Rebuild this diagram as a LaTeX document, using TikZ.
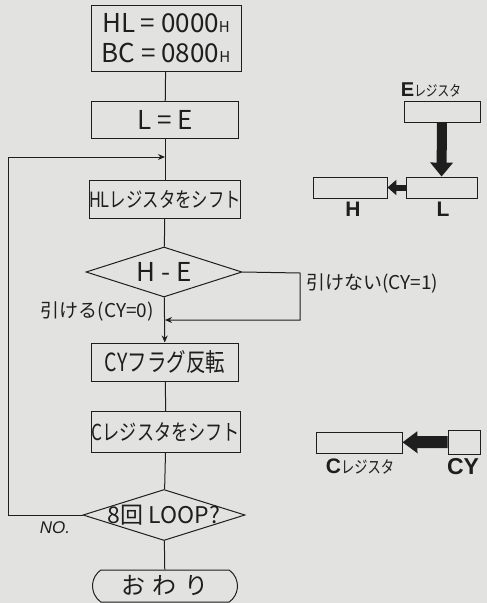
\documentclass[tikz,border=0pt]{standalone}
\usepackage{fontspec}
\setmainfont{Noto Sans CJK JP}
\newfontfamily\narrowjp{Noto Sans CJK JP}[FakeStretch=0.78]
\newfontfamily\gothic{Liberation Sans}
\usetikzlibrary{arrows.meta,shapes.geometric,shapes.misc}
\definecolor{cpapier}{RGB}{226,226,224}
\definecolor{cencre}{RGB}{30,30,30}
\newcommand\fs[2]{\fontsize{#1}{#2}\selectfont}

\begin{document}
\begin{tikzpicture}[x=1pt, y=-1pt, >=Stealth,
  boite/.style={draw=cencre, line width=1pt, inner sep=0pt, text=cencre},
  losange/.style={draw=cencre, line width=1pt, diamond, inner sep=0pt},
  flux/.style={draw=cencre, line width=1pt},
  fleche/.style={flux, -{Stealth[length=7pt,width=6pt]}},
  regbox/.style={draw=cencre, line width=0.9pt, inner sep=0pt},
  etiq/.style={text=cencre, inner sep=0pt}]
\fill[cpapier] (0,0) rectangle (487,603);
% organigramme
\node[boite, minimum width=150pt, minimum height=66pt, align=center, font=\fs{26}{30}] (init) at (166,38)
  {HL = 0000{\fs{15}{30}H}\\BC = 0800{\fs{15}{30}H}};
\node[boite, minimum width=147pt, minimum height=37pt, font=\fs{26}{30}] (le) at (165,120) {L = E};
\node[boite, minimum width=149pt, minimum height=38pt, font=\narrowjp\fs{21}{24}] (shl) at (165,199) {HLレジスタをシフト};
\node[losange, minimum width=156pt, minimum height=50pt] (test) at (164,272) {};
\node[etiq, font=\fs{26}{30}] at (test) {H - E};
\node[boite, minimum width=147pt, minimum height=38pt, font=\narrowjp\fs{25}{28}] (inv) at (165,362) {CYフラグ反転};
\node[boite, minimum width=148pt, minimum height=41pt, font=\narrowjp\fs{22}{26}] (shc) at (166,432) {Cレジスタをシフト};
\node[losange, minimum width=162pt, minimum height=51pt] (boucle) at (164,515) {};
\node[etiq, font=\fs{23}{26}] at (boucle) {8回 LOOP?};
\node[boite, rounded rectangle, rounded rectangle arc length=110, minimum width=145pt, minimum height=32pt, font=\fs{24}{28}] (fin) at (165,586)
  {お\,\,わ\,\,り};
\coordinate (ret) at (8,157);
\coordinate (retj) at (165,157);
\coordinate (nonR) at (300,273);
\coordinate (nonJ) at (165,320);
\draw[flux] (init) -- (le);
\draw[flux] (le) -- (shl);
\draw[flux] (shl) -- (test);
\draw[fleche] (test) -- (inv);
\draw[flux] (inv) -- (shc);
\draw[flux] (shc) -- (boucle);
\draw[flux] (boucle) -- (fin);
\draw[fleche] (test.east) -- (nonR) |- (nonJ);
\draw[fleche] (boucle.west) -| (ret) -- (retj);
\node[etiq, anchor=west, font=\fs{19}{22}] at (306,283) {引けない(CY=1)};
\node[etiq, anchor=east, font=\fs{19}{22}] at (154,311) {引ける(CY=0)};
\node[etiq, font=\gothic\itshape\fs{17}{20}] at (55,528) {NO.};
% registres
\node[regbox, minimum width=76pt, minimum height=21pt] (regE) at (442,111.5) {};
\node[regbox, minimum width=71pt, minimum height=21pt] (regL) at (441.5,187.5) {};
\node[regbox, minimum width=74pt, minimum height=21pt] (regH) at (350,187.5) {};
\node[regbox, minimum width=86pt, minimum height=21pt] (regC) at (359,442.5) {};
\node[regbox, minimum width=32pt, minimum height=24pt] (regCY) at (464,442) {};
\node[etiq, anchor=south] at (431,97) {{\gothic\bfseries\fs{20}{22}E}{\narrowjp\fs{15}{18}レジスタ}};
\node[etiq, font=\gothic\bfseries\fs{21}{22}] at (353,209) {H};
\node[etiq, font=\gothic\bfseries\fs{21}{22}] at (443,209) {L};
\node[etiq] at (360,467) {{\gothic\bfseries\fs{21}{22}C}{\narrowjp\fs{17}{20}レジスタ}};
\node[etiq, font=\gothic\bfseries\fs{23}{24}] at (463,467) {CY};
\draw[cencre, line width=10pt, -{Triangle[width=22pt,length=14pt]}] (regE) -- (regL);
\draw[cencre, line width=6pt, -{Triangle[width=15pt,length=9pt]}] (regL) -- (regH);
\draw[cencre, line width=12pt, -{Triangle[width=21pt,length=15pt]}] (regCY) -- (regC);
\end{tikzpicture}
\end{document}
